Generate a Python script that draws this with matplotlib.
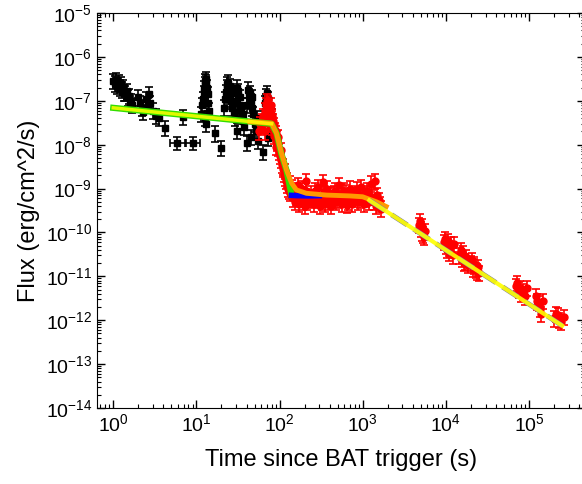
import numpy as np
import matplotlib
matplotlib.use("Agg")
import matplotlib.pyplot as plt

plt.rcParams['font.family'] = ['Liberation Sans', 'DejaVu Sans']
plt.rcParams['mathtext.fontset'] = 'custom'
plt.rcParams['mathtext.rm'] = 'Liberation Sans'
plt.rcParams['mathtext.it'] = 'Liberation Sans:italic'

# BAT points: time (s), flux (erg/cm^2/s)
bat_t = [1.0, 1.04, 1.08, 1.12, 1.16, 1.2, 1.24, 1.28, 1.32, 1.36, 1.4, 1.45, 1.5, 1.55, 1.6, 1.65, 1.7,
         2.0, 2.1, 2.2, 2.3, 2.5, 2.6, 2.7, 2.8, 3.0, 3.3, 3.5, 4.2, 6.9,
         11.2, 11.6, 12.0, 12.2, 12.4, 12.6, 12.8, 13.0, 13.2, 13.4, 13.6, 13.8, 14.0, 12.5, 13.0, 16.5, 20.0,
         21.5, 22, 22.5, 23, 23.5, 24, 24.5, 25, 25.5, 26, 26.5, 27, 27.5, 28, 29,
         30, 30.5, 31, 31.5, 32, 33, 33.5, 34, 35, 36, 37, 30.5, 36,
         40, 41, 42, 43, 44, 45, 46, 47, 48, 50, 52, 54, 45, 55, 63,
         66, 67, 68, 69, 70, 71, 72, 73, 74, 76, 78, 80, 72, 79]
bat_f = [28e-8, 25e-8, 30e-8, 22e-8, 26e-8, 20e-8, 24e-8, 18e-8, 21e-8, 15e-8, 15e-8, 17e-8, 12e-8, 13e-8, 9e-8, 10e-8, 8e-8,
         12e-8, 9e-8, 7e-8, 5.5e-8, 11e-8, 8e-8, 14e-8, 9e-8, 6e-8, 4.5e-8, 4e-8, 2.4e-8, 4.3e-8,
         5e-8, 8e-8, 11e-8, 15e-8, 19e-8, 24e-8, 28e-8, 32e-8, 26e-8, 20e-8, 14e-8, 9e-8, 6e-8, 4e-8, 3e-8, 1.8e-8, 0.85e-8,
         7e-8, 11e-8, 16e-8, 24e-8, 20e-8, 26e-8, 17e-8, 13e-8, 22e-8, 10e-8, 15e-8, 7e-8, 9e-8, 5.5e-8, 4e-8,
         15e-8, 9e-8, 20e-8, 13e-8, 17e-8, 8e-8, 12e-8, 6e-8, 4.5e-8, 3.5e-8, 2.5e-8, 2.1e-8, 5e-8,
         1.1e-8, 8e-8, 18e-8, 13e-8, 15e-8, 10e-8, 12e-8, 7e-8, 5e-8, 3e-8, 2e-8, 4e-8, 1.5e-8, 1.2e-8, 0.68e-8,
         6e-8, 9e-8, 13e-8, 10e-8, 15e-8, 7e-8, 11e-8, 5e-8, 8e-8, 3e-8, 2e-8, 4.5e-8, 1.4e-8, 2.5e-8]
# BAT points with wide time bins
bat_wide_t = [5.8, 9.0]
bat_wide_f = [1.1e-8, 1.1e-8]
bat_wide_terr = [[1.0, 1.7], [1.7, 2.0]]

# XRT points: time (s), flux (erg/cm^2/s)
xrt_t = [56, 58, 60, 62, 64, 66, 68, 70, 72, 74, 76, 78, 80, 82, 84, 86, 88, 90, 92, 94, 96, 98,
         66, 70, 74, 78, 82, 86, 90, 95,
         100, 103, 106, 109, 112, 115, 118, 122, 126, 130, 135, 140,
         104, 110, 116, 124, 132,
         145, 150, 155, 160, 165, 170, 175, 180, 185, 190, 195, 200, 205, 210, 215, 220, 230, 240, 250,
         260, 270, 280, 290, 300, 310, 320, 330, 340, 350, 360, 370, 380, 390, 400, 415, 430, 445, 460,
         480, 500, 520, 540, 560, 580, 600, 620, 645, 670, 695, 720, 750, 780, 810, 850, 885, 920,
         960, 1000, 1040, 1080, 1120, 1150, 1200, 1250, 1300, 1350, 1400, 1450, 1500, 1550, 1600, 1650,
         4800, 4900, 5000, 5100, 5200, 5300, 5400, 5600,
         9500, 9800, 10000, 10300, 10500, 10800, 11000, 11500, 12000, 12500,
         14500, 15000, 15500, 16000, 16500, 17000, 17500, 18500,
         20000, 20500, 21000, 21500, 22000, 23000, 23500, 24000, 25000,
         70000, 72000, 75000, 78000, 80000, 85000, 90000, 95000,
         120000, 125000, 130000, 135000, 140000, 145000,
         200000, 210000, 220000, 230000, 240000, 260000]
xrt_f = [2.0e-8, 3.0e-8, 2.5e-8, 3.5e-8, 4.5e-8, 6e-8, 8e-8, 1.0e-7, 9e-8, 7e-8, 6e-8, 5e-8, 4.5e-8, 4e-8,
         3.5e-8, 2.8e-8, 2.2e-8, 1.8e-8, 1.4e-8, 1.1e-8, 8.5e-9, 7e-9,
         2.0e-8, 4e-8, 3e-8, 8e-8, 2.5e-8, 1.6e-8, 9e-9, 1.5e-8,
         5.5e-9, 4.5e-9, 3.5e-9, 2.8e-9, 2.2e-9, 1.8e-9, 1.5e-9, 1.2e-9, 1.0e-9, 9e-10, 8e-10, 1.1e-9,
         7.5e-9, 3.2e-9, 2.5e-9, 1.6e-9, 1.3e-9,
         6e-10, 9e-10, 5e-10, 7e-10, 1.2e-9, 4.5e-10, 8e-10, 6e-10, 1.0e-9, 5e-10, 7e-10, 4e-10, 1.5e-9, 9e-10,
         5e-10, 6e-10, 5.5e-10, 8e-10, 6.5e-10,
         4.5e-10, 9e-10, 5.5e-10, 1.1e-9, 6e-10, 4e-10, 5e-10, 1.4e-9, 8e-10, 4.5e-10, 6.5e-10, 1.0e-9,
         5e-10, 7e-10, 7.5e-10, 4e-10, 6e-10, 8e-10, 9e-10,
         5e-10, 5.5e-10, 1.2e-9, 7e-10, 4.5e-10, 6e-10, 9e-10, 8.5e-10, 4.2e-10, 5e-10, 1.0e-9, 7e-10,
         4.5e-10, 6e-10, 8e-10, 9.5e-10, 5e-10, 5.5e-10,
         1.1e-9, 7e-10, 4.5e-10, 6e-10, 9e-10, 8e-10, 5e-10, 1.3e-9, 6.5e-10, 5e-10, 1.5e-9, 4e-10,
         7e-10, 5.5e-10, 4.5e-10, 3.5e-10,
         1.5e-10, 1.8e-10, 1.2e-10, 1.4e-10, 1.0e-10, 9e-11, 8e-11, 1.1e-10,
         6e-11, 7e-11, 5e-11, 4e-11, 6.5e-11, 3.5e-11, 4.5e-11, 5.5e-11, 3e-11, 5.5e-11,
         3e-11, 4e-11, 2.5e-11, 3.3e-11, 2e-11, 2.2e-11, 2.8e-11, 1.8e-11,
         2e-11, 2.4e-11, 1.5e-11, 1.9e-11, 1.7e-11, 1.4e-11, 1.3e-11, 1.6e-11, 1.2e-11,
         6e-12, 7e-12, 5e-12, 5.5e-12, 4e-12, 4.5e-12, 3.5e-12, 5.5e-12,
         3.5e-12, 2.7e-12, 2.5e-12, 1.8e-12, 1.4e-12, 2.8e-12,
         1.1e-12, 1.4e-12, 1.3e-12, 1.0e-12, 9e-13, 1.2e-12]

# model curves
green_t = [1.0, 80, 92, 105, 121, 139]
green_f = [6.9e-8, 3.0e-8, 1.8e-8, 6.2e-9, 2.6e-9, 7.2e-10]
blue_t = [139, 160, 217, 300]
blue_f = [7.0e-10, 6.9e-10, 6.8e-10, 6.9e-10]
orange_t = [44, 80, 91.5, 105, 121, 139, 159, 210, 365, 694, 995, 1452, 1914]
orange_f = [3.34e-8, 3.07e-8, 1.85e-8, 6.5e-9, 2.65e-9, 1.34e-9, 9.3e-10, 7.8e-10, 7.1e-10,
            6.8e-10, 6.5e-10, 5.0e-10, 3.9e-10]
yellow1_t = [1.0, 80]
yellow1_f = [6.9e-8, 3.0e-8]
late_t = [1200, 2.5e5]
late_f = [5.4e-10, 7.5e-13]

fig = plt.figure(figsize=(5.82, 4.84), dpi=100)
ax = fig.add_axes([97 / 582, 76 / 484, 488 / 582, 395 / 484])

bat_t = np.array(bat_t)
bat_f = np.array(bat_f)
xrt_t = np.array(xrt_t)
xrt_f = np.array(xrt_f)

ax.errorbar(bat_t, bat_f, yerr=[bat_f * 0.35, bat_f * 0.45], fmt='s', color='black', ms=5,
            elinewidth=1.2, capsize=3, capthick=1.2, zorder=3)
ax.errorbar(bat_wide_t, bat_wide_f, xerr=np.array(bat_wide_terr).T,
            yerr=[np.array(bat_wide_f) * 0.3, np.array(bat_wide_f) * 0.35],
            fmt='s', color='black', ms=5, elinewidth=1.2, capsize=3, capthick=1.2, zorder=3)
ax.errorbar(xrt_t, xrt_f, yerr=[xrt_f * 0.35, xrt_f * 0.45], fmt='o', color='red', ms=5,
            elinewidth=1.2, capsize=3, capthick=1.2, zorder=4)

ax.plot(green_t, green_f, color='#33dd00', lw=4.5, zorder=5)
ax.plot(blue_t, blue_f, color='blue', lw=4, zorder=5)
ax.plot(orange_t, orange_f, color='#ff9900', lw=3.5, zorder=6)
ax.plot(yellow1_t, yellow1_f, color='yellow', lw=2.5, zorder=7, alpha=0.85)
ax.plot(late_t, late_f, color='#7777aa', lw=3.6, ls='--', zorder=7)
ax.plot(late_t, late_f, color='yellow', lw=3.0, zorder=8, alpha=0.9)

ax.set_xscale('log')
ax.set_yscale('log')
ax.set_xlim(0.637, 4.7e5)
ax.set_ylim(1e-14, 1e-5)

ax.tick_params(which='both', direction='in', top=True, right=True, labelsize=14)
ax.tick_params(which='major', length=6, width=1)
ax.tick_params(which='minor', length=3, width=0.8)
ax.xaxis.set_major_locator(matplotlib.ticker.LogLocator(base=10, numticks=12))
ax.xaxis.set_minor_locator(matplotlib.ticker.LogLocator(base=10, subs=np.arange(2, 10), numticks=12))
ax.yaxis.set_major_locator(matplotlib.ticker.LogLocator(base=10, numticks=12))
ax.yaxis.set_minor_locator(matplotlib.ticker.LogLocator(base=10, subs=np.arange(2, 10), numticks=12))

ax.set_xlabel('Time since BAT trigger (s)', fontsize=17, labelpad=10)
ax.set_ylabel('Flux (erg/cm^2/s)', fontsize=17)

fig.savefig('out.png', dpi=100)
